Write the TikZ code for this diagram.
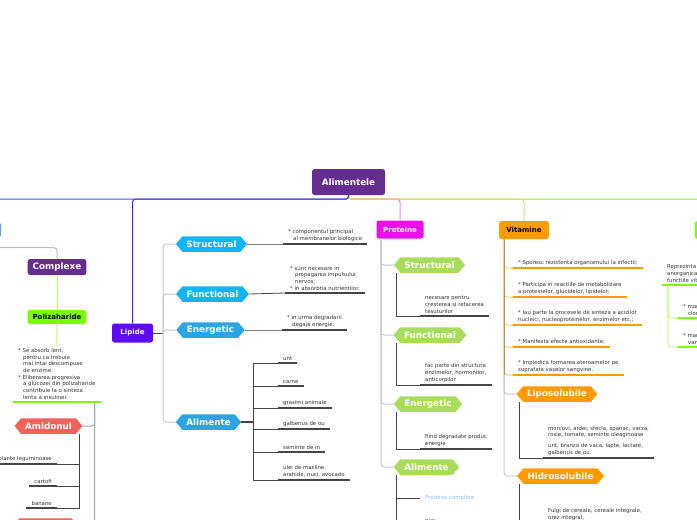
\documentclass[tikz,border=0pt]{standalone}
\usepackage{fontspec}
\setmainfont{DejaVu Sans}
\usepackage{xcolor}
\usepackage{tikz}
\usetikzlibrary{positioning, shapes.symbols, calc}
\definecolor{rootpurple}{HTML}{662D91}
\definecolor{lipviolet}{HTML}{5F0AF5}
\definecolor{carbblue}{HTML}{2B5BE0}
\definecolor{carbnode}{HTML}{6B9BFF}
\definecolor{lightblue}{HTML}{A8C0FA}
\definecolor{protmag}{HTML}{E910E9}
\definecolor{vitorange}{HTML}{FF9A00}
\definecolor{vittan}{HTML}{C0904A}
\definecolor{minegreen}{HTML}{7CFC00}
\definecolor{cyanA}{HTML}{0FB5F7}
\definecolor{cyanB}{HTML}{2BA6E3}
\definecolor{lime}{HTML}{A9DC5C}
\definecolor{salmon}{HTML}{F0625A}
\definecolor{darkline}{HTML}{454545}
\definecolor{trunkgray}{HTML}{C8C8C8}
\definecolor{complblue}{HTML}{8CBCE8}
\newcommand{\ind}{\hspace*{5pt}}
\tikzset{
  topic/.style ={rounded corners=2.5pt, text=white, inner xsep=5pt, inner ysep=0pt,
                 font=\fontsize{7}{8}\selectfont\bfseries},
  chev/.style  ={shape=signal, signal to=east and west, signal pointer angle=100,
                 text=white, minimum height=15.5pt, inner xsep=4pt, inner ysep=0pt,
                 font=\fontsize{8.8}{9}\selectfont\bfseries},
  leaf/.style  ={font=\fontsize{5.4}{6.7}\selectfont, align=left, text=black!80,
                 inner xsep=5pt, inner ysep=2.5pt, anchor=south west},
  leafr/.style ={leaf, align=center, anchor=south east},
  uline/.style ={line width=2.4pt, draw=darkline},
  trunk/.style ={draw=trunkgray, line width=1pt, rounded corners=3pt},
  dk/.style    ={draw=darkline, line width=0.8pt},
  conn/.style  ={draw=gray, line width=1pt},
  drop/.style  ={line width=1pt, rounded corners=3pt},
}
\begin{document}
\begin{tikzpicture}[x=1pt, y=-1pt]
  \useasboundingbox (0,0) rectangle (697,520);
  \fill[white] (0,0) rectangle (697,520);

  % main topics
  \node[topic, fill=rootpurple, minimum width=73pt, minimum height=26pt,
        font=\fontsize{8.8}{9}\selectfont\bfseries] (root) at (348.5,182) {Alimentele};
  \node[topic, fill=lipviolet, minimum width=41pt, minimum height=19pt] (lip) at (132.5,333) {Lipide};
  \node[topic, fill=protmag, minimum width=47pt, minimum height=18pt] (prot) at (400,229.5) {Proteine};
  \node[topic, fill=vitorange, text=black, minimum width=50pt, minimum height=18pt] (vit) at (524,230) {Vitamine};
  \node[topic, fill=carbnode, minimum width=60pt, minimum height=15pt] (carb) at (-29,230) {};
  \node[topic, fill=minegreen, minimum width=60pt, minimum height=18pt] (mine) at (725,230) {};

  \draw[drop, draw=minegreen] (root.south) -- ++(0,4) -| (mine.north);
  \draw[drop, draw=protmag!55] (root.south) -- ++(0,4) -| (prot.north);
  \draw[drop, draw=vitorange!55] (root.south) -- ++(0,4) -| (vit.north);
  \draw[drop, draw=lipviolet] (root.south) -- ++(0,4) -| (lip.north);
  \draw[drop, draw=carbblue] (root.south) -- ++(0,4) -| (carb.north);

  % Lipide
  \node[chev, fill=cyanA] (ls) at (211.5,244) {Structural};
  \node[chev, fill=cyanA] (lf) at (212.5,294) {Functional};
  \node[chev, fill=cyanB] (le) at (210.5,330) {Energetic};
  \node[chev, fill=cyanB] (la) at (208.5,422) {Alimente};
  \draw[dk] (lip.east) -- ++(10,0) coordinate (ltr);
  \foreach \n in {ls,lf,le,la} \draw[trunk] (ltr) |- (\n.west);

  \node[leaf] (lsl) at (283,244) {* componentul principal\\\ind al membranelor biologice};
  \node[leaf] (lfl) at (285,293) {* sunt necesare in\\\ind propagarea impulsului\\\ind nervos;\\* in absorbtia nutrientilor.};
  \node[leaf] (lel) at (282,330) {* in urma degradarii\\\ind degaja energie.};
  \draw[conn] (ls.east) -- (lsl.south west);
  \draw[dk] (lf.east) -- (lfl.south west);
  \draw[conn] (le.east) -- (lel.south west);

  \node[leaf] (la1) at (278,363) {unt};
  \node[leaf] (la2) at (278,386) {carne};
  \node[leaf] (la3) at (278,408) {grasimi animale};
  \node[leaf] (la4) at (278,429) {galbenus de ou};
  \node[leaf] (la5) at (278,452) {seminte de in};
  \node[leaf] (la6) at (278,480) {ulei de masline,\\arahide, nuci, avocado};
  \draw[dk, line width=1.6pt] (la.east) -- ++(12,0) coordinate (latr);
  \foreach \n in {la1,la2,la3,la4,la5,la6} \draw[dk] (latr) |- (\n.south west);

  % Proteine
  \node[chev, fill=lime] (ps) at (429.5,265) {Structural};
  \node[chev, fill=lime] (pf) at (430,335) {Functional};
  \node[chev, fill=lime] (pe) at (428,404) {Energetic};
  \node[chev, fill=lime] (pa) at (426.5,467) {Alimente};
  \coordinate (ptr) at ([xshift=-19pt]prot.south);
  \foreach \n in {ps,pf,pe,pa} \draw[trunk] (ptr) |- (\n.west);

  \node[leaf] (psl) at (420,316) {necesare pentru\\cresterea si refacerea\\tesuturilor};
  \node[leaf] (pfl) at (420,385) {fac parte din structura\\enzimelor, hormonilor,\\anticorpilor};
  \node[leaf] (pel) at (420,449) {fiind degradate produc\\energie};
  \draw[dk] ($(ps.west |- ps.south)+(3,0)$) |- (psl.south west);
  \draw[dk] ($(pf.west |- pf.south)+(3,0)$) |- (pfl.south west);
  \draw[dk] ($(pe.west |- pe.south)+(3,0)$) |- (pel.south west);

  \node[leaf, anchor=west, text=complblue] (pa1) at (420,498) {Proteine complete};
  \node[leaf] (pa2) at (420,525) {oua};
  \draw[dk, line width=1.6pt] ($(pa.west |- pa.south)+(3,0)$) coordinate (patr) |- (pa2.south west);
  \draw[dk] (patr) |- (pa1.west);

  % Vitamine
  \node[chev, fill=vitorange] (vl) at (557,394) {Liposolubile};
  \node[chev, fill=vitorange] (vh) at (560.5,476) {Hidrosolubile};
  \coordinate (vtr) at ([xshift=-20pt]vit.south);
  \foreach \n in {vl,vh} \draw[trunk] (vtr) |- (\n.west);

  \node[leaf] (v1) at (513,268) {* Sporesc rezistenta organismului la infectii;};
  \node[leaf] (v2) at (513,297) {* Participa in reactiile de metabolizare\\a proteinelor, glucidelor, lipidelor;};
  \node[leaf] (v3) at (513,325) {* Iau parte la procesele de sinteza a acizilor\\nucleici, nucleoproteinelor, enzimelor etc.;};
  \node[leaf] (v4) at (513,347) {* Manifesta efecte antioxidante;};
  \node[leaf] (v5) at (513,375) {* Impiedica formarea ateroamelor pe\\suprafata vaselor sangvine.};
  \foreach \n in {v1,v2,v3,v4,v5} \draw[drop, draw=vitorange!50] (vtr) |- (\n.south west);
  \draw[line width=1pt, draw=vittan] (vtr) -- (vtr |- v5.south west);

  \node[leaf] (lpl) at (543,458) {morcovi, ardei, sfecla, spanac, varza,\\rosie, tomate, seminte oleaginoase\\[4pt]unt, branza de vaca, lapte, lactate,\\galbenus de ou.};
  \node[leaf] (hdl) at (543,523) {Fulgi de cereale, cereale integrale,\\orez integral,};
  \draw[dk] ($(vl.west |- vl.south)+(3,0)$) |- (lpl.south west);
  \draw[dk] ($(vh.west |- vh.south)+(3,0)$) |- (hdl.south west);

  % Minerale (cut at the right edge)
  \node[leaf] (mt) at (662,285) {Reprezinta\\anorganica\\functiile vit};
  \node[leaf] (m1) at (678,318) {* mag\\\ind clorur};
  \node[leaf] (m2) at (678,347) {* mar\\\ind vana};
  \foreach \n in {m1,m2} \draw[drop, draw=minegreen!50] ($(mt.south west)+(6,0)$) |- (\n.south west);

  % Complexe / Polizaharide
  \node[topic, fill=rootpurple, minimum width=58pt, minimum height=16pt,
        font=\fontsize{8.8}{9}\selectfont\bfseries] (cpx) at (57,267) {Complexe};
  \node[topic, fill=minegreen, text=black, minimum width=56pt, minimum height=14pt] (poli) at (57,317) {Polizaharide};
  \node[leaf] (poltxt) at (13,402) {* Se absorb lent,\\\ind pentru ca trebuie\\\ind mai intai descompuse\\\ind de enzime.\\* Eliberarea progresiva\\\ind a glucozei din polizaharide\\\ind contribuie la o sinteza\\\ind lenta a insulinei.};
  \draw[drop, draw=lightblue] (carb.south) -- ++(0,10) -| (cpx.north);
  \draw[drop, draw=minegreen!60] (cpx.south) -- (poli.north);
  \draw[drop, draw=minegreen!60] (poli.south) -- (poltxt.north);

  \node[chev, fill=salmon] (amid) at (48.5,426) {Amidonul};
  \node[chev, fill=salmon, minimum width=65pt] (red2) at (45.5,526) {};
  \draw[trunk, draw=gray!70] ([xshift=-6pt]poltxt.south east) coordinate (amtr) |- (amid.east);
  \draw[trunk, draw=gray!70] (amtr) |- (red2.east);

  \node[leafr] (a1) at (57,464) {plante leguminoase};
  \node[leafr] (a2) at (57,486) {cartofi};
  \node[leafr] (a3) at (57,508) {banane};
  \draw[dk] ($(amid.east |- amid.south)+(-3,0)$) coordinate (adtr) |- (a1.south east);
  \foreach \n in {a2,a3} \draw[dk] (adtr) |- (\n.south east);

  % underlines
  \foreach \n in {lsl,lfl,lel,la1,la2,la3,la4,la5,la6,psl,pfl,pel,pa2,lpl,hdl,a1,a2,a3}
    \draw[uline] (\n.south west) -- (\n.south east);
  \foreach \n in {v1,v2,v3,v4,v5}
    \draw[uline, draw=vitorange] (\n.south west) -- (\n.south east);
  \foreach \n in {poltxt,mt,m1,m2}
    \draw[uline, draw=minegreen] (\n.south west) -- (\n.south east);
\end{tikzpicture}
\end{document}
